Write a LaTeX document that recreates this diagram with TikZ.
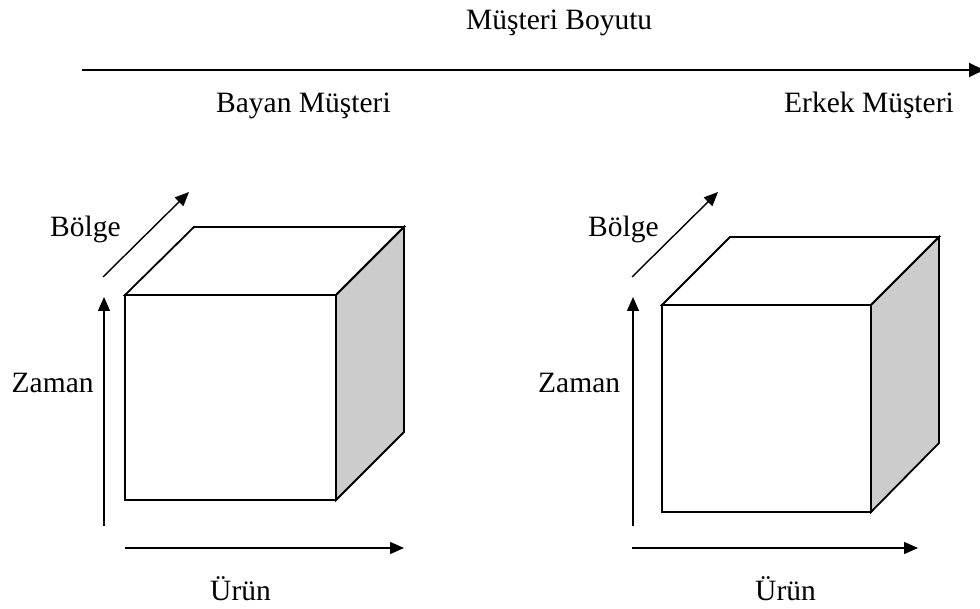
\documentclass[tikz,border=0pt]{standalone}
\usepackage{fontspec}
\setmainfont{Liberation Serif}
\usetikzlibrary{arrows.meta}
\begin{document}
\begin{tikzpicture}[x=1pt,y=-1pt,
  lbl/.style={anchor=base west,inner sep=0pt,font=\fontsize{29.5}{35}\selectfont},
  axis/.style={line width=1.4pt,-{Triangle[length=14pt,width=12pt]}},
  topaxis/.style={line width=2pt,-{Triangle[length=15pt,width=14pt]}},
  face/.style={draw=black,line width=1.8pt,line join=miter},
  side/.style={face,fill=black!20},
]
\useasboundingbox[fill=white] (0,0) rectangle (980,609);
% top
\node[lbl] (title) at (466,30) {Müşteri Boyutu};
\coordinate (ts) at (82,70);
\coordinate (te) at (984,70);
\draw[topaxis] (ts) -- (te);
\node[lbl] (bayan) at (216,113) {Bayan Müşteri};
\node[lbl] (erkek) at (784,113) {Erkek Müşteri};

% left cube
\coordinate (LA) at (125,295);
\coordinate (LB) at (336,295);
\coordinate (LC) at (336,500);
\coordinate (LD) at (125,500);
\coordinate (LE) at (194,227);
\coordinate (LF) at (404,227);
\coordinate (LG) at (404,432);
\draw[face] (LA) -- (LE) -- (LF) -- (LB) -- cycle;
\draw[side] (LB) -- (LF) -- (LG) -- (LC) -- cycle;
\draw[face] (LA) rectangle (LC);
\coordinate (lz0) at (104,526);
\coordinate (lz1) at (104,297);
\draw[axis] (lz0) -- (lz1);
\coordinate (lb0) at (103,277);
\coordinate (lb1) at (189,192);
\draw[axis] (lb0) -- (lb1);
\coordinate (lu0) at (125,548);
\coordinate (lu1) at (404,548);
\draw[axis] (lu0) -- (lu1);
\node[lbl] (lbolge) at (50,237) {Bölge};
\node[lbl] (lzaman) at (11.5,393) {Zaman};
\node[lbl] (lurun) at (210,600) {Ürün};

% right cube
\coordinate (RA) at (662,305);
\coordinate (RB) at (871,305);
\coordinate (RC) at (871,512);
\coordinate (RD) at (662,512);
\coordinate (RE) at (730,237);
\coordinate (RF) at (939,237);
\coordinate (RG) at (939,443);
\draw[face] (RA) -- (RE) -- (RF) -- (RB) -- cycle;
\draw[side] (RB) -- (RF) -- (RG) -- (RC) -- cycle;
\draw[face] (RA) rectangle (RC);
\coordinate (rz0) at (633,526);
\coordinate (rz1) at (633,297);
\draw[axis] (rz0) -- (rz1);
\coordinate (rb0) at (632,277);
\coordinate (rb1) at (718,192);
\draw[axis] (rb0) -- (rb1);
\coordinate (ru0) at (632,548);
\coordinate (ru1) at (918,548);
\draw[axis] (ru0) -- (ru1);
\node[lbl] (rbolge) at (588,237) {Bölge};
\node[lbl] (rzaman) at (538,393) {Zaman};
\node[lbl] (rurun) at (755,600) {Ürün};
\end{tikzpicture}
\end{document}
